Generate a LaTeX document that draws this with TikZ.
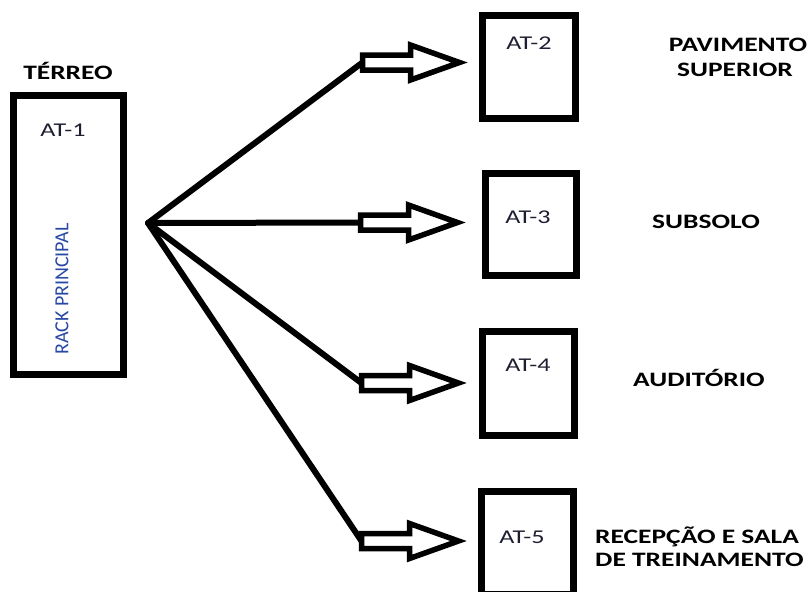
\documentclass[tikz,border=0pt]{standalone}
\usepackage{fontspec}
\setmainfont{Carlito}
\newfontfamily\lblfont[FakeStretch=1.34]{Carlito}
\newfontfamily\rackfont[FakeStretch=1.0]{Carlito}
\usetikzlibrary{calc}
\definecolor{rackblue}{RGB}{40,72,165}
\definecolor{attext}{RGB}{30,30,50}
\newcommand\blkarrow[1]{%
  \draw[arrowline] ([shift={(0,-7.5)}]#1) -- ([shift={(48,-7.5)}]#1) -- ([shift={(48,-17.5)}]#1)
    -- ([shift={(97,0)}]#1) -- ([shift={(48,17.5)}]#1) -- ([shift={(48,7.5)}]#1)
    -- ([shift={(0,7.5)}]#1) -- cycle;}
\tikzset{
  boxnode/.style={draw=black, line width=7.5pt, fill=white, inner sep=0pt},
  fanline/.style={draw=black, line width=6pt},
  arrowline/.style={draw=black, line width=5.5pt, fill=white, line join=miter},
  attxt/.style={font=\lblfont\fontsize{19.5}{22}\selectfont, text=attext, inner sep=0pt},
  bigtxt/.style={font=\lblfont\bfseries\fontsize{20.5}{24}\selectfont, text=black, inner sep=0pt},
}
\begin{document}
\begin{tikzpicture}[x=1pt,y=-1pt]
\clip (0,0) rectangle (812,592);
\fill[white] (0,0) rectangle (812,592);
% main rack
\node[boxnode, minimum width=110pt, minimum height=279pt] (rack) at (68.5,235) {};
\node[attxt] (at1) at (63,130) {AT-1};
\node[font=\rackfont\fontsize{20}{22}\selectfont, text=rackblue, rotate=90, inner sep=0pt] (rp) at (62,289) {RACK PRINCIPAL};
\node[bigtxt, anchor=base] (terreo) at (68,79.5) {TÉRREO};
% destination boxes
\node[boxnode, minimum width=93pt, minimum height=103pt] (b2) at (529,67) {};
\node[boxnode, minimum width=91pt, minimum height=102pt] (b3) at (531,224.5) {};
\node[boxnode, minimum width=92pt, minimum height=104pt] (b4) at (528.5,383.5) {};
\node[boxnode, minimum width=92pt, minimum height=103pt] (b5) at (527.5,543) {};
\node[attxt] (at2) at (529,43) {AT-2};
\node[attxt] (at3) at (528,217) {AT-3};
\node[attxt] (at4) at (528,365) {AT-4};
\node[attxt] (at5) at (522,537) {AT-5};
% fan
\coordinate (o) at (148,223);
\coordinate (t2) at (362.5,62.5);
\coordinate (t3) at (360.5,222.5);
\coordinate (t4) at (361.5,383);
\coordinate (t5) at (361.5,541);
\draw[fanline, line cap=round] (o) -- (t2);
\draw[fanline] (o) -- (t3);
\draw[fanline, line cap=round] (o) -- (t4);
\draw[fanline, line cap=round] (o) -- (t5);
\blkarrow{t2}
\blkarrow{t3}
\blkarrow{t4}
\blkarrow{t5}
% labels
\node[bigtxt, anchor=base] (l2a) at (738,51.5) {PAVIMENTO};
\node[bigtxt, anchor=base] (l2b) at (735,76.5) {SUPERIOR};
\node[bigtxt, anchor=base] (l3) at (706,228.5) {SUBSOLO};
\node[bigtxt, anchor=base] (l4) at (699,386.5) {AUDITÓRIO};
\node[bigtxt, anchor=base west] (l5a) at (595,543.5) {RECEPÇÃO E SALA};
\node[bigtxt, anchor=base west] (l5b) at (595,566.5) {DE TREINAMENTO};
\end{tikzpicture}
\end{document}
